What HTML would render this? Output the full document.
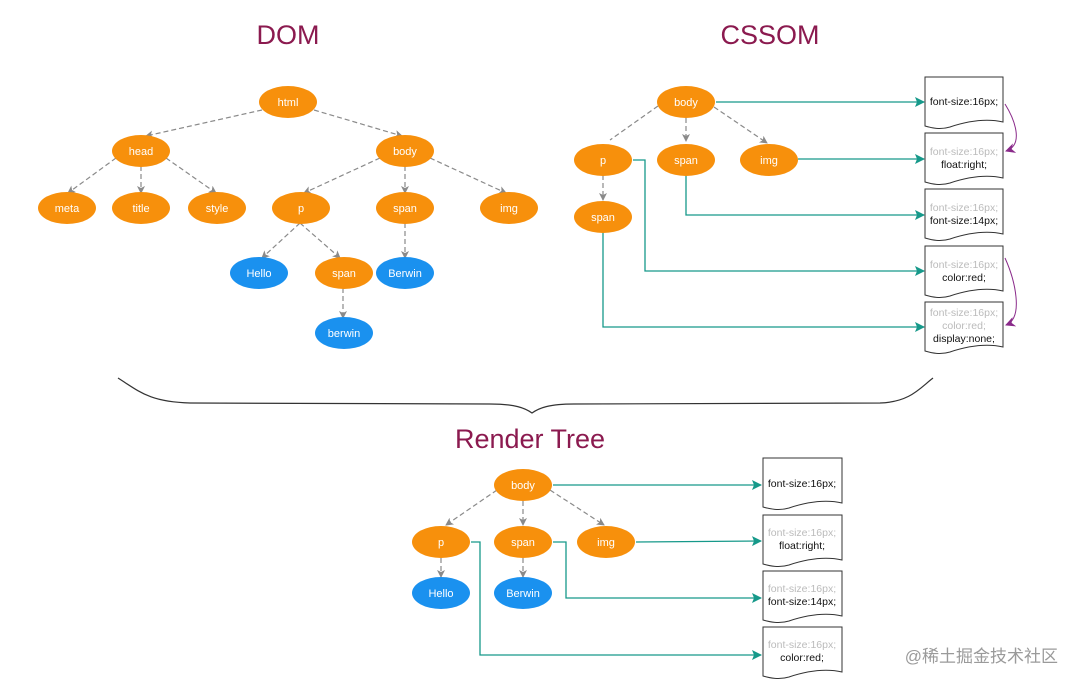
<!DOCTYPE html>
<html><head><meta charset="utf-8"><style>
html,body{margin:0;padding:0;background:#fff;}
svg{display:block;font-family:"Liberation Sans",sans-serif;}
</style></head><body>
<svg width="1080" height="686" viewBox="0 0 1080 686" xmlns="http://www.w3.org/2000/svg">
<defs>
<marker id="ag" markerWidth="8" markerHeight="8" refX="7" refY="4" orient="auto" markerUnits="userSpaceOnUse"><path d="M0,0 L8,4 L0,8 L2,4 Z" fill="#8a8a8a"/></marker>
<marker id="at" markerWidth="10" markerHeight="10" refX="9" refY="5" orient="auto" markerUnits="userSpaceOnUse"><path d="M0,0 L10,5 L0,10 L2,5 Z" fill="#16998a"/></marker>
<marker id="ap" markerWidth="10" markerHeight="10" refX="9" refY="5" orient="auto" markerUnits="userSpaceOnUse"><path d="M0,0 L10,5 L0,10 L3,5 Z" fill="#8a2a8a"/></marker>
</defs>

<g fill="#8b1a4f" font-size="27" text-anchor="middle">
<text x="288" y="44">DOM</text>
<text x="770" y="44">CSSOM</text>
<text x="530" y="448">Render Tree</text>
</g>

<!-- DOM edges -->
<g stroke="#8a8a8a" stroke-width="1.2" stroke-dasharray="5,3" fill="none" marker-end="url(#ag)">
<line x1="262" y1="110" x2="146" y2="136"/>
<line x1="314" y1="110" x2="402" y2="136"/>
<line x1="116" y1="158" x2="68" y2="193"/>
<line x1="141" y1="166" x2="141" y2="193"/>
<line x1="166" y1="158" x2="216" y2="193"/>
<line x1="380" y1="158" x2="304" y2="193"/>
<line x1="405" y1="166" x2="405" y2="193"/>
<line x1="430" y1="158" x2="506" y2="193"/>
<line x1="300" y1="223" x2="262" y2="258"/>
<line x1="300" y1="223" x2="340" y2="258"/>
<line x1="405" y1="223" x2="405" y2="258"/>
<line x1="343" y1="288" x2="343" y2="318"/>
</g>
<g font-size="11" fill="#fff" text-anchor="middle">
<g fill="#f7900c">
<ellipse cx="288" cy="102" rx="29" ry="16"/>
<ellipse cx="141" cy="151" rx="29" ry="16"/>
<ellipse cx="405" cy="151" rx="29" ry="16"/>
<ellipse cx="67" cy="208" rx="29" ry="16"/>
<ellipse cx="141" cy="208" rx="29" ry="16"/>
<ellipse cx="217" cy="208" rx="29" ry="16"/>
<ellipse cx="301" cy="208" rx="29" ry="16"/>
<ellipse cx="405" cy="208" rx="29" ry="16"/>
<ellipse cx="509" cy="208" rx="29" ry="16"/>
<ellipse cx="344" cy="273" rx="29" ry="16"/>
</g>
<g fill="#1a91ef">
<ellipse cx="259" cy="273" rx="29" ry="16"/>
<ellipse cx="405" cy="273" rx="29" ry="16"/>
<ellipse cx="344" cy="333" rx="29" ry="16"/>
</g>
<text x="288" y="106">html</text><text x="141" y="155">head</text><text x="405" y="155">body</text>
<text x="67" y="212">meta</text><text x="141" y="212">title</text><text x="217" y="212">style</text>
<text x="301" y="212">p</text><text x="405" y="212">span</text><text x="509" y="212">img</text>
<text x="259" y="277">Hello</text><text x="344" y="277">span</text><text x="405" y="277">Berwin</text>
<text x="344" y="337">berwin</text>
</g>

<!-- CSSOM -->
<g stroke="#8a8a8a" stroke-width="1.2" stroke-dasharray="5,3" fill="none">
<line x1="658" y1="106" x2="610" y2="140"/>
<line x1="686" y1="118" x2="686" y2="141" marker-end="url(#ag)"/>
<line x1="714" y1="107" x2="767" y2="143" marker-end="url(#ag)"/>
<line x1="603" y1="175" x2="603" y2="200" marker-end="url(#ag)"/>
</g>
<g stroke="#16998a" stroke-width="1.3" fill="none" marker-end="url(#at)">
<line x1="716" y1="102" x2="924" y2="102"/>
<line x1="798" y1="159" x2="924" y2="159"/>
<polyline points="686,175 686,215 924,215"/>
<polyline points="633,160 645,160 645,271 924,271"/>
<polyline points="603,232 603,327 924,327"/>
</g>
<g font-size="11" fill="#fff" text-anchor="middle">
<g fill="#f7900c">
<ellipse cx="686" cy="102" rx="29" ry="16"/>
<ellipse cx="603" cy="160" rx="29" ry="16"/>
<ellipse cx="686" cy="160" rx="29" ry="16"/>
<ellipse cx="769" cy="160" rx="29" ry="16"/>
<ellipse cx="603" cy="217" rx="29" ry="16"/>
</g>
<text x="686" y="106">body</text><text x="603" y="164">p</text><text x="686" y="164">span</text>
<text x="769" y="164">img</text><text x="603" y="221">span</text>
</g>
<g stroke="#333" stroke-width="1" fill="#fff">
<path d="M925,77 H1003 V122 C985,118 965,122 950,127 C940,130 932,128 925,126 Z"/>
<path d="M925,133 H1003 V178 C985,174 965,178 950,183 C940,186 932,184 925,182 Z"/>
<path d="M925,189 H1003 V234 C985,230 965,234 950,239 C940,242 932,240 925,238 Z"/>
<path d="M925,246 H1003 V291 C985,287 965,291 950,296 C940,299 932,297 925,295 Z"/>
<path d="M925,302 H1003 V347 C985,343 965,347 950,352 C940,355 932,353 925,351 Z"/>
</g>
<g font-size="10.5" text-anchor="middle" fill="#111">
<text x="964" y="105">font-size:16px;</text>
<text x="964" y="155" fill="#bbb">font-size:16px;</text><text x="964" y="168">float:right;</text>
<text x="964" y="211" fill="#bbb">font-size:16px;</text><text x="964" y="224">font-size:14px;</text>
<text x="964" y="268" fill="#bbb">font-size:16px;</text><text x="964" y="281">color:red;</text>
<text x="964" y="316" fill="#bbb">font-size:16px;</text><text x="964" y="329" fill="#bbb">color:red;</text><text x="964" y="342">display:none;</text>
</g>
<g stroke="#8a2a8a" stroke-width="1" fill="none" marker-end="url(#ap)">
<path d="M1005,104 C1015,120 1024,145 1006,151"/>
<path d="M1005,258 C1015,280 1024,318 1006,325"/>
</g>

<!-- brace -->
<path d="M118,378 C140,392 150,402 190,403 L490,404 C515,404 525,408 532,413 C539,408 549,404 574,404 L880,403 C910,402 920,388 933,378" stroke="#333" stroke-width="1.2" fill="none"/>

<!-- Render tree -->
<g stroke="#8a8a8a" stroke-width="1.2" stroke-dasharray="5,3" fill="none" marker-end="url(#ag)">
<line x1="497" y1="490" x2="446" y2="525"/>
<line x1="523" y1="501" x2="523" y2="525"/>
<line x1="550" y1="490" x2="604" y2="525"/>
<line x1="441" y1="558" x2="441" y2="577"/>
<line x1="523" y1="558" x2="523" y2="577"/>
</g>
<g stroke="#16998a" stroke-width="1.3" fill="none" marker-end="url(#at)">
<line x1="553" y1="485" x2="761" y2="485"/>
<line x1="636" y1="542" x2="761" y2="541"/>
<polyline points="553,542 566,542 566,598 761,598"/>
<polyline points="471,542 480,542 480,655 761,655"/>
</g>
<g font-size="11" fill="#fff" text-anchor="middle">
<g fill="#f7900c">
<ellipse cx="523" cy="485" rx="29" ry="16"/>
<ellipse cx="441" cy="542" rx="29" ry="16"/>
<ellipse cx="523" cy="542" rx="29" ry="16"/>
<ellipse cx="606" cy="542" rx="29" ry="16"/>
</g>
<g fill="#1a91ef">
<ellipse cx="441" cy="593" rx="29" ry="16"/>
<ellipse cx="523" cy="593" rx="29" ry="16"/>
</g>
<text x="523" y="489">body</text><text x="441" y="546">p</text><text x="523" y="546">span</text><text x="606" y="546">img</text>
<text x="441" y="597">Hello</text><text x="523" y="597">Berwin</text>
</g>
<g stroke="#333" stroke-width="1" fill="#fff">
<path d="M763,458 H842 V503 C824,499 804,503 789,508 C779,511 770,509 763,507 Z"/>
<path d="M763,515 H842 V560 C824,556 804,560 789,565 C779,568 770,566 763,564 Z"/>
<path d="M763,571 H842 V616 C824,612 804,616 789,621 C779,624 770,622 763,620 Z"/>
<path d="M763,627 H842 V672 C824,668 804,672 789,677 C779,680 770,678 763,676 Z"/>
</g>
<g font-size="10.5" text-anchor="middle" fill="#111">
<text x="802" y="487">font-size:16px;</text>
<text x="802" y="536" fill="#bbb">font-size:16px;</text><text x="802" y="549">float:right;</text>
<text x="802" y="592" fill="#bbb">font-size:16px;</text><text x="802" y="605">font-size:14px;</text>
<text x="802" y="648" fill="#bbb">font-size:16px;</text><text x="802" y="661">color:red;</text>
</g>

<text x="1058" y="662" text-anchor="end" font-size="17" fill="#9a9a9a" font-family="Liberation Sans, Noto Sans CJK SC, sans-serif">@稀土掘金技术社区</text>
</svg>
</body></html>
